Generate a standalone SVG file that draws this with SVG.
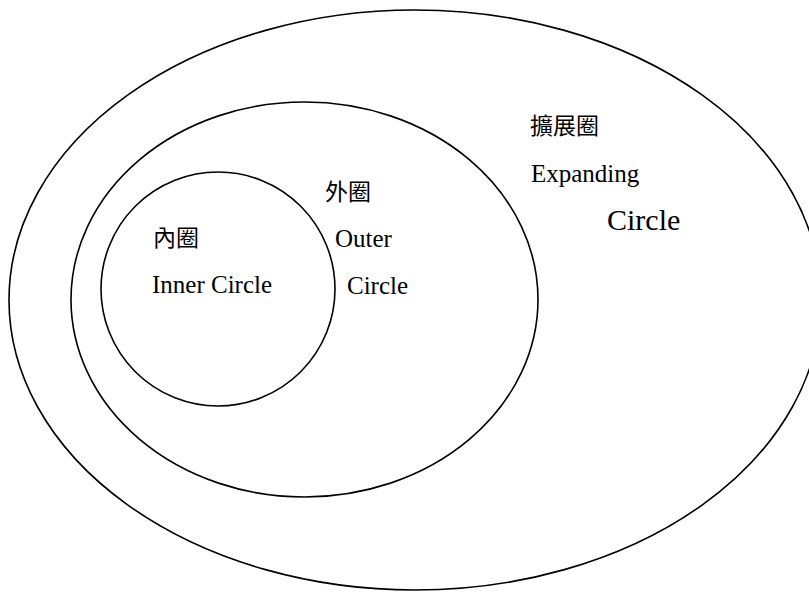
<svg xmlns="http://www.w3.org/2000/svg" width="809" height="592" viewBox="0 0 809 592">
<style>
.ring{fill:none;stroke:#000;stroke-width:1.6}
.t{font-family:"Liberation Serif","Noto Sans CJK TC",serif;font-size:25px;fill:#000}
.c{font-family:"Liberation Serif","Noto Sans CJK TC",serif;font-size:23px;fill:#000}
</style>
<rect width="809" height="592" fill="#fff"/>
<g id="expanding">
<ellipse class="ring" cx="415" cy="300" rx="406" ry="290"/>
<text class="c" x="530" y="134">擴展圈</text>
<text class="t" x="531" y="182">Expanding</text>
<text class="t" x="607" y="230" style="font-size:30px">Circle</text>
</g>
<g id="outer">
<ellipse class="ring" cx="304.5" cy="299.5" rx="233.5" ry="197.5"/>
<text class="c" x="325" y="200">外圈</text>
<text class="t" x="335" y="247">Outer</text>
<text class="t" x="347" y="294">Circle</text>
</g>
<g id="inner">
<circle class="ring" cx="218" cy="289" r="117"/>
<text class="c" x="153" y="246">內圈</text>
<text class="t" x="152" y="293">Inner Circle</text>
</g>
</svg>
